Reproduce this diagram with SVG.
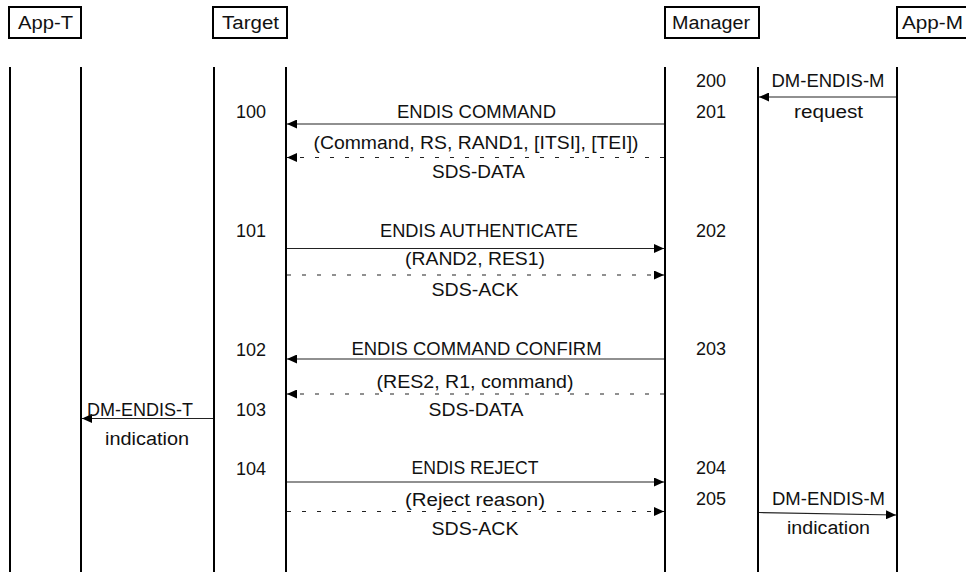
<svg xmlns="http://www.w3.org/2000/svg" width="966" height="574" viewBox="0 0 966 574">
<style>
  text { font-family: "Liberation Sans", Arial, sans-serif; font-size: 18px; fill: #111; }
  .c { text-anchor: middle; }
  .box { fill: #fff; stroke: #000; stroke-width: 2; }
  .life { stroke: #000; stroke-width: 2; fill: none; }
  .msg { stroke: #222; stroke-width: 1.2; fill: none; marker-end: url(#ah); }
  .dash { stroke: #222; stroke-width: 1.2; fill: none; stroke-dasharray: 4 11; marker-end: url(#ah); }
</style>
<defs>
  <marker id="ah" markerUnits="userSpaceOnUse" markerWidth="11" markerHeight="9" refX="10" refY="4.5" orient="auto" viewBox="0 0 11 9">
    <path d="M0,0 L10,4.5 L0,9 z" fill="#000"/>
  </marker>
</defs>
<rect width="966" height="574" fill="#fff"/>

<g id="node-app-t">
  <rect class="box" x="9" y="7" width="72" height="31"/>
  <text class="c" x="45.5" y="29" textLength="55" lengthAdjust="spacingAndGlyphs">App-T</text>
  <line class="life" x1="10" y1="67" x2="10" y2="572"/>
  <line class="life" x1="81" y1="67" x2="81" y2="572"/>
</g>
<g id="node-target">
  <rect class="box" x="213" y="7" width="74" height="31"/>
  <text class="c" x="250.5" y="29" textLength="57" lengthAdjust="spacingAndGlyphs">Target</text>
  <line class="life" x1="214" y1="67" x2="214" y2="572"/>
  <line class="life" x1="286" y1="67" x2="286" y2="572"/>
</g>
<g id="node-manager">
  <rect class="box" x="665" y="7" width="94" height="31"/>
  <text class="c" x="711" y="29" textLength="78" lengthAdjust="spacingAndGlyphs">Manager</text>
  <line class="life" x1="665" y1="67" x2="665" y2="572"/>
  <line class="life" x1="758" y1="67" x2="758" y2="572"/>
</g>
<g id="node-app-m">
  <rect class="box" x="897" y="7" width="80" height="31"/>
  <text x="902" y="29" textLength="61" lengthAdjust="spacingAndGlyphs">App-M</text>
  <line class="life" x1="897" y1="67" x2="897" y2="572"/>
</g>

<g id="connectors">
  <line class="msg" x1="896" y1="97" x2="759" y2="97"/>
  <line class="msg" x1="664" y1="124" x2="287" y2="124"/>
  <line class="dash" x1="664" y1="157.5" x2="287" y2="157.5"/>
  <line class="msg" x1="287" y1="248.5" x2="664" y2="248.5"/>
  <line class="dash" x1="287" y1="275" x2="664" y2="275"/>
  <line class="msg" x1="664" y1="359" x2="287" y2="359"/>
  <line class="dash" x1="664" y1="394" x2="287" y2="394"/>
  <line class="msg" x1="213" y1="418.5" x2="82" y2="418.5"/>
  <line class="msg" x1="287" y1="482" x2="664" y2="482"/>
  <line class="dash" x1="287" y1="511.5" x2="664" y2="511.5"/>
  <line class="msg" x1="759" y1="512.5" x2="896" y2="515"/>
</g>

<g id="labels">
  <text class="c" x="711" y="87">200</text>
  <text class="c" x="828" y="87" textLength="113" lengthAdjust="spacingAndGlyphs">DM-ENDIS-M</text>
  <text class="c" x="711" y="117.5">201</text>
  <text class="c" x="828.5" y="117.5" textLength="69" lengthAdjust="spacingAndGlyphs">request</text>

  <text class="c" x="251" y="118">100</text>
  <text class="c" x="476.5" y="118" textLength="159" lengthAdjust="spacingAndGlyphs">ENDIS COMMAND</text>
  <text class="c" x="476" y="149" textLength="325" lengthAdjust="spacingAndGlyphs">(Command, RS, RAND1, [ITSI], [TEI])</text>
  <text class="c" x="478.5" y="178" textLength="93" lengthAdjust="spacingAndGlyphs">SDS-DATA</text>

  <text class="c" x="251" y="236.5">101</text>
  <text class="c" x="479" y="236.5" textLength="198" lengthAdjust="spacingAndGlyphs">ENDIS AUTHENTICATE</text>
  <text class="c" x="711" y="236.5">202</text>
  <text class="c" x="475" y="265" textLength="140" lengthAdjust="spacingAndGlyphs">(RAND2, RES1)</text>
  <text class="c" x="475" y="296" textLength="87" lengthAdjust="spacingAndGlyphs">SDS-ACK</text>

  <text class="c" x="251" y="355.5">102</text>
  <text class="c" x="476.5" y="355" textLength="250" lengthAdjust="spacingAndGlyphs">ENDIS COMMAND CONFIRM</text>
  <text class="c" x="711" y="355">203</text>
  <text class="c" x="475" y="388" textLength="197" lengthAdjust="spacingAndGlyphs">(RES2, R1, command)</text>
  <text class="c" x="476" y="416" textLength="95" lengthAdjust="spacingAndGlyphs">SDS-DATA</text>
  <text class="c" x="251" y="416">103</text>
  <text class="c" x="140" y="415.5" textLength="106" lengthAdjust="spacingAndGlyphs">DM-ENDIS-T</text>
  <text class="c" x="147" y="445" textLength="84" lengthAdjust="spacingAndGlyphs">indication</text>

  <text class="c" x="251" y="474.5">104</text>
  <text class="c" x="475" y="474" textLength="127" lengthAdjust="spacingAndGlyphs">ENDIS REJECT</text>
  <text class="c" x="711" y="474">204</text>
  <text class="c" x="475" y="505.5" textLength="140" lengthAdjust="spacingAndGlyphs">(Reject reason)</text>
  <text class="c" x="711" y="505">205</text>
  <text class="c" x="828.5" y="505" textLength="113" lengthAdjust="spacingAndGlyphs">DM-ENDIS-M</text>
  <text class="c" x="475" y="535" textLength="87" lengthAdjust="spacingAndGlyphs">SDS-ACK</text>
  <text class="c" x="828.5" y="533.5" textLength="83" lengthAdjust="spacingAndGlyphs">indication</text>
</g>
</svg>
